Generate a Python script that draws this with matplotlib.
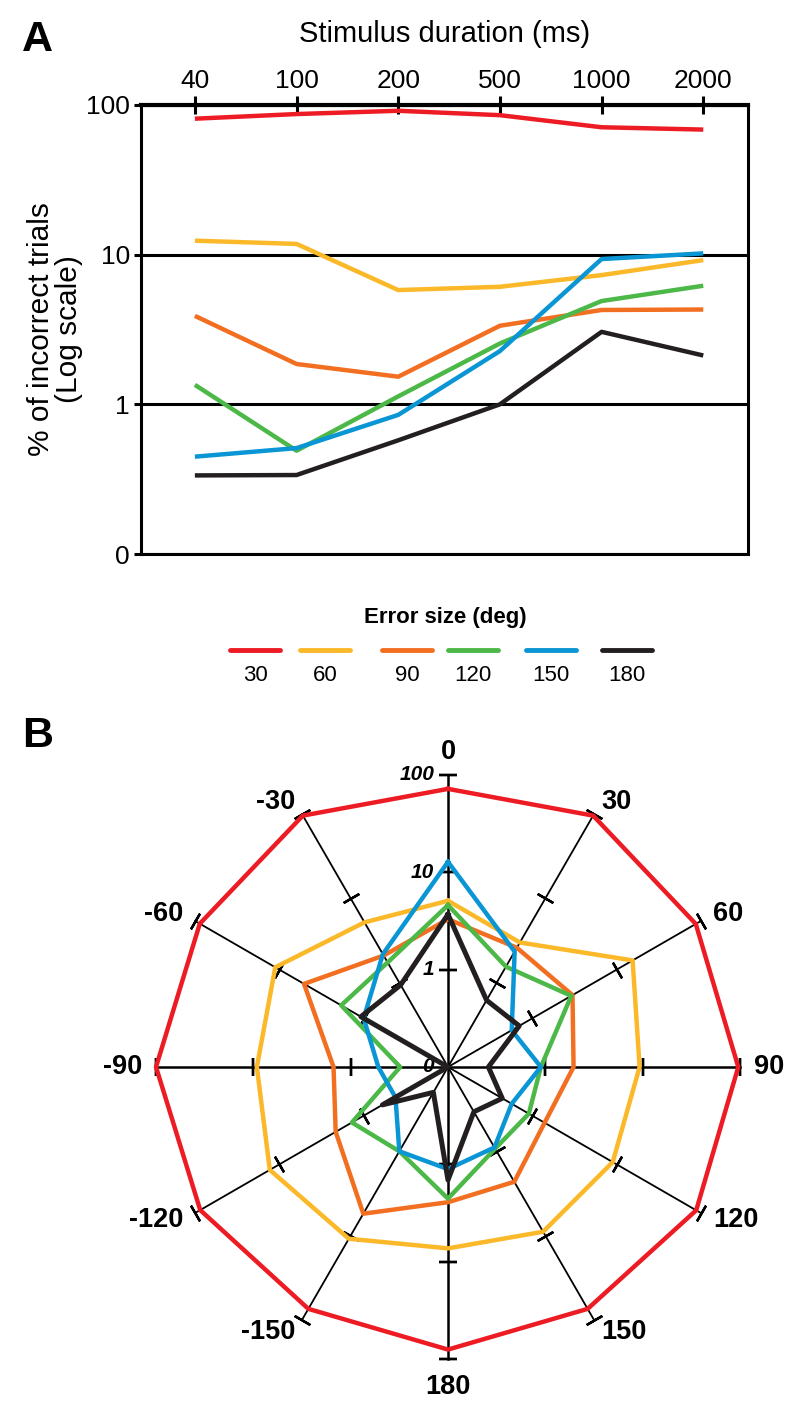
import numpy as np
import matplotlib
matplotlib.use('Agg')
import matplotlib.pyplot as plt
from matplotlib.lines import Line2D
from matplotlib.ticker import NullLocator

plt.rcParams['font.family'] = ['Liberation Sans', 'DejaVu Sans']

# panel A: % incorrect trials per stimulus duration, one line per error size
durations = ['40', '100', '200', '500', '1000', '2000']
err_sizes = ['30', '60', '90', '120', '150', '180']
colors = ['#ED1C24', '#FBB829', '#F26F21', '#4CB848', '#0A95D4', '#231F20']

a_30 = [81, 87, 91.5, 85.5, 71, 68.5]
a_60 = [12.4, 11.8, 5.8, 6.1, 7.3, 9.2]
a_90 = [3.9, 1.86, 1.53, 3.35, 4.27, 4.3]
a_120 = [1.35, 0.49, 1.13, 2.55, 4.9, 6.2]
a_150 = [0.447, 0.51, 0.85, 2.27, 9.35, 10.2]
a_180 = [0.335, 0.337, 0.575, 1.0, 3.05, 2.12]

# panel B: % incorrect trials per direction (deg), one polygon per error size
directions = [0, 30, 60, 90, 120, 150, 180, -150, -120, -90, -60, -30]
b_30 = [72, 96, 87, 96, 88, 74, 80, 74, 87, 100, 88, 96]
b_60 = [5.1, 3.0, 15.5, 9.3, 9.0, 9.0, 7.3, 10.9, 13.0, 9.2, 11.2, 5.2]
b_90 = [3.3, 2.6, 3.0, 1.95, 1.4, 2.3, 2.45, 5.5, 2.15, 1.5, 5.1, 2.1]
b_120 = [4.6, 1.55, 2.9, 0.9, 0.91, 0.93, 2.25, 1.0, 1.38, 0.31, 1.85, 1.74]
b_150 = [12.8, 2.34, 0.57, 0.9, 0.57, 0.9, 1.12, 1.0, 0.42, 0.52, 1.0, 2.18]
b_180 = [3.7, 0.62, 0.70, 0.26, 0.44, 0.34, 1.45, 0.2, 0.6, 0.1, 1.08, 0.94]

W, H = 800, 1417
fig = plt.figure(figsize=(W / 100, H / 100), dpi=100)

# ---- panel A
ax = fig.add_axes([141 / W, 1 - 554 / H, 607 / W, 449 / H])
x = np.arange(len(durations))
for vals, c in zip([a_30, a_60, a_90, a_120, a_150, a_180], colors):
    ax.plot(x, vals, color=c, lw=3.2, solid_capstyle='butt', zorder=3)

ax.set_yscale('log')
ax.set_ylim(0.1, 100)
ax.set_yticks([0.1, 1, 10, 100])
ax.set_yticklabels(['0', '1', '10', '100'])
ax.yaxis.set_minor_locator(NullLocator())
ax.set_xlim(-0.53, 5.44)
ax.xaxis.tick_top()
ax.set_xticks(x)
ax.set_xticklabels(durations)
ax.tick_params(axis='x', direction='inout', length=13.5, width=2.2, labelsize=19, pad=2)
ax.tick_params(axis='y', direction='out', length=5, width=2.2, labelsize=19, pad=3)
ax.grid(axis='y', which='major', color='black', lw=2.2)
for s in ax.spines.values():
    s.set_linewidth(2.2)
ax.spines['top'].set_linewidth(3)
ax.xaxis.set_label_position('top')
ax.set_xlabel('Stimulus duration (ms)', fontsize=21, labelpad=19)
ax.set_ylabel('% of incorrect trials\n(Log scale)', fontsize=21.5, labelpad=2, linespacing=1.0)

fig.text(22 / W, 1 - 40 / H, 'A', fontsize=31, weight='bold', va='center')

# legend
fig.text(445 / W, 1 - 617 / H, 'Error size (deg)', fontsize=16, weight='bold',
         ha='center', va='center')
leg_x = [255, 325, 407, 473, 551, 627]
for xc, c, lab in zip(leg_x, colors, err_sizes):
    fig.add_artist(Line2D([(xc - 25) / W, (xc + 25) / W], [1 - 650 / H] * 2,
                          transform=fig.transFigure, color=c, lw=3.5,
                          solid_capstyle='round'))
    fig.text(xc / W, 1 - 675 / H, lab, fontsize=16, ha='center', va='center')

# ---- panel B
fig.text(22 / W, 1 - 736 / H, 'B', fontsize=31, weight='bold', va='center')

axp = fig.add_axes([(448 - 292) / W, 1 - (1067 + 292) / H, 584 / W, 584 / H],
                   projection='polar')
axp.set_theta_zero_location('N')
axp.set_theta_direction(-1)
axp.set_rscale('log')
axp.set_rlim(0.1, 100)
axp.grid(False)
axp.set_xticks([])
axp.set_yticks([])
axp.yaxis.set_minor_locator(NullLocator())
axp.spines['polar'].set_visible(False)

th = np.deg2rad(directions)
for d, t in zip(directions, th):
    axp.plot([t, t], [0.1, 100], color='black', lw=1.8 if d % 90 == 0 else 1.3,
             zorder=1, clip_on=False)
    axp.plot([t, t, t], [1, 10, 100], ls='none', marker=(2, 2, -d - 90), ms=13,
             mew=1.7, color='black', zorder=1, clip_on=False)
    if d == 0:
        off, ha, va = (0, 7), 'center', 'bottom'
    elif d == 180:
        off, ha, va = (0, -11), 'center', 'top'
    else:
        off = (10 * np.sin(t), 10 * np.cos(t))
        ha = 'left' if d > 0 else 'right'
        va = 'center'
    axp.annotate(str(d), xy=(t, 100), xytext=off, textcoords='offset points',
                 ha=ha, va=va, fontsize=19.5, weight='bold', annotation_clip=False)

for v, lab in zip([100, 10, 1, 0.1], ['100', '10', '1', '0']):
    axp.annotate(lab, xy=(0, v), xytext=(-10, 0), textcoords='offset points',
                 ha='right', va='center', fontsize=15, style='italic', weight='bold',
                 annotation_clip=False)

th_c = np.append(th, th[0])
for vals, c in zip([b_30, b_60, b_90, b_120, b_150, b_180], colors):
    axp.plot(th_c, vals + vals[:1], color=c, lw=3.6 if c == '#231F20' else 3.2,
             zorder=3, clip_on=False)

fig.savefig('out.png', dpi=100)
